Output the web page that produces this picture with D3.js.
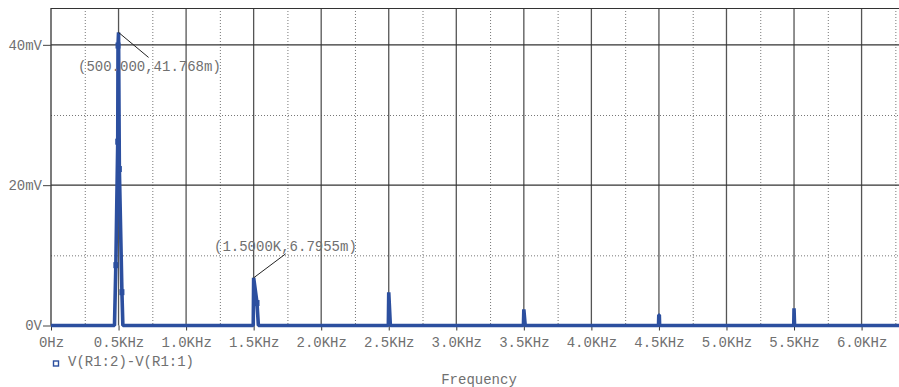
<!DOCTYPE html>
<html>
<head>
<meta charset="utf-8">
<script src="https://cdn.jsdelivr.net/npm/d3@7"></script>
<style>
  html, body { margin: 0; padding: 0; background: #fff; }
  svg { display: block; }
  text { font-family: "Liberation Mono", "DejaVu Sans Mono", monospace; font-size: 14px; fill: #707070; }
</style>
</head>
<body>
<svg id="chart" width="899" height="387"></svg>
<script>
// FFT magnitude of V(R1:2)-V(R1:1): frequency in Hz, magnitude in mV
const freqHz = [0, 470, 480, 494, 496, 500, 506, 525, 532,
                1497, 1500, 1525, 1535,
                2497, 2500, 2512,
                3497, 3500, 3510,
                4497, 4499, 4503, 4505,
                5498, 5500, 5504, 6300];
const magMv  = [0, 0, 8.6, 26.2, 39.9, 41.768, 22.3, 4.75, 0,
                0, 6.7955, 3.2, 0,
                0, 4.72, 0,
                0, 2.3, 0,
                0, 1.5, 1.5, 0,
                0, 2.45, 0, 0];
// sample points carrying a marker symbol
const markerFreqHz = [480, 494, 496, 506, 525, 1525];

const xTickHz = [0, 500, 1000, 1500, 2000, 2500, 3000, 3500, 4000, 4500, 5000, 5500, 6000];
const xTickLabels = ["0Hz", "0.5KHz", "1.0KHz", "1.5KHz", "2.0KHz", "2.5KHz", "3.0KHz",
                     "3.5KHz", "4.0KHz", "4.5KHz", "5.0KHz", "5.5KHz", "6.0KHz"];
const yTickMv = [0, 20, 40];
const yTickLabels = ["0V", "20mV", "40mV"];
const xMinorHz = [250, 750, 1250, 1750, 2250, 2750, 3250, 3750, 4250, 4750, 5250, 5750, 6250];
const yMinorMv = [10, 30];

const cursors = [
  { f: 500,  v: 41.768, label: "(500.000,41.768m)", dx: 30, dy: 25, tx: 78,  ty: 71 },
  { f: 1500, v: 6.7955, label: "(1.5000K,6.7955m)", dx: 32, dy: -24, tx: 214, ty: 251 }
];

const traceName = "V(R1:2)-V(R1:1)";
const xTitle = "Frequency";

const svg = d3.select("#chart");
const plotL = 51, plotR = 899, plotT = 8, plotB = 325.5;

const x = d3.scaleLinear().domain([0, 6277]).range([plotL, plotR]);
const y = d3.scaleLinear().domain([0, 45.25]).range([plotB, plotT]);

const blue = "#2c4f9f";

// minor dotted grid
svg.append("g").selectAll("line").data(xMinorHz).join("line")
  .attr("x1", d => x(d) + 0.5).attr("x2", d => x(d) + 0.5)
  .attr("y1", plotT).attr("y2", plotB)
  .attr("stroke", "#777").attr("stroke-width", 1).attr("stroke-dasharray", "1,2");
svg.append("g").selectAll("line").data(yMinorMv).join("line")
  .attr("x1", plotL).attr("x2", plotR)
  .attr("y1", d => y(d) + 0.5).attr("y2", d => y(d) + 0.5)
  .attr("stroke", "#777").attr("stroke-width", 1).attr("stroke-dasharray", "1,2");

// major solid grid
svg.append("g").selectAll("line").data(xTickHz.slice(1)).join("line")
  .attr("x1", d => x(d)).attr("x2", d => x(d))
  .attr("y1", plotT).attr("y2", plotB)
  .attr("stroke", "#555").attr("stroke-width", 1.3);
svg.append("g").selectAll("line").data(yTickMv.slice(1)).join("line")
  .attr("x1", plotL).attr("x2", plotR)
  .attr("y1", d => y(d)).attr("y2", d => y(d))
  .attr("stroke", "#333").attr("stroke-width", 1.2);

// frame: top border and left axis
svg.append("line").attr("x1", plotL).attr("x2", plotR).attr("y1", plotT + 0.5).attr("y2", plotT + 0.5)
  .attr("stroke", "#333").attr("stroke-width", 1.2);
svg.append("line").attr("x1", plotL).attr("x2", plotL).attr("y1", plotT).attr("y2", plotB)
  .attr("stroke", "#333").attr("stroke-width", 1.3);

// x axis
const xAxis = d3.axisBottom(x).tickValues(xTickHz)
  .tickFormat((d, i) => xTickLabels[i]).tickSize(5).tickPadding(7);
const gx = svg.append("g").attr("transform", `translate(0,${plotB})`).call(xAxis);
gx.select(".domain").remove();
gx.selectAll(".tick line").attr("stroke", "#333");
gx.selectAll(".tick text").attr("font-family", null).attr("font-size", null).attr("fill", null);

// y axis
const yAxis = d3.axisLeft(y).tickValues(yTickMv)
  .tickFormat((d, i) => yTickLabels[i]).tickSize(8).tickPadding(1);
const gy = svg.append("g").attr("transform", `translate(${plotL},0)`).call(yAxis);
gy.select(".domain").remove();
gy.selectAll(".tick line").attr("stroke", "#444");
gy.selectAll(".tick text").attr("font-family", null).attr("font-size", null).attr("fill", null);

// trace
const pts = freqHz.map((f, i) => [f, magMv[i]]);
const line = d3.line().x(d => x(d[0])).y(d => y(d[1]));
svg.append("path").datum(pts).attr("d", line)
  .attr("fill", "none").attr("stroke", blue).attr("stroke-width", 3.6)
  .attr("stroke-linejoin", "bevel");

// markers on sampled points
svg.append("g").selectAll("rect").data(markerFreqHz).join("rect")
  .attr("x", d => x(d) - 2.5)
  .attr("y", d => y(magMv[freqHz.indexOf(d)]) - 3)
  .attr("width", 5).attr("height", 6)
  .attr("fill", blue);

// cursor annotations
cursors.forEach(c => {
  svg.append("line")
    .attr("x1", x(c.f)).attr("y1", y(c.v))
    .attr("x2", x(c.f) + c.dx).attr("y2", y(c.v) + c.dy)
    .attr("stroke", "#222").attr("stroke-width", 1);
  svg.append("text").attr("x", c.tx).attr("y", c.ty).text(c.label);
});

// legend
svg.append("rect").attr("x", 53.5).attr("y", 361).attr("width", 5).attr("height", 5)
  .attr("fill", "none").attr("stroke", blue).attr("stroke-width", 1.4);
svg.append("text").attr("x", 68).attr("y", 366).text(traceName);

// axis title
svg.append("text").attr("x", 479).attr("y", 384).attr("text-anchor", "middle").text(xTitle);
</script>
</body>
</html>
